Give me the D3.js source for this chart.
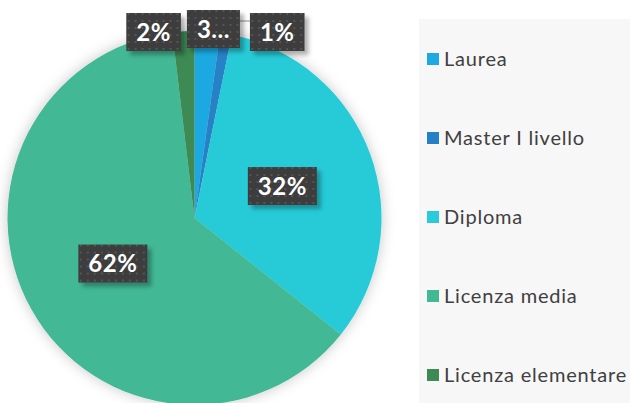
<!DOCTYPE html>
<html>
<head>
<meta charset="utf-8">
<script src="https://cdn.jsdelivr.net/npm/d3@7"></script>
<style>
  html, body { margin: 0; padding: 0; background: #fff; }
  svg { display: block; font-family: Lato, "Open Sans", sans-serif; }
</style>
</head>
<body>
<svg id="chart" width="630" height="403"></svg>
<script>
// dati (percentuali)
const categories = ["Laurea", "Master I livello", "Diploma", "Licenza media", "Licenza elementare"];
const values = [2.2, 1.0, 32.5, 62.4, 1.9];
const labels = ["3...", "1%", "32%", "62%", "2%"];
const colors = ["#1da9e2", "#2581c6", "#28cbd7", "#43b895", "#3e8a54"];

const svg = d3.select("#chart");
const cx = 194.5, cy = 218, R = 187;

const defs = svg.append("defs");
const glow = defs.append("filter").attr("id", "glow")
    .attr("x", "-20%").attr("y", "-20%").attr("width", "140%").attr("height", "140%");
glow.append("feDropShadow").attr("dx", 0).attr("dy", 0).attr("stdDeviation", 7)
    .attr("flood-color", "#000").attr("flood-opacity", 0.22);

const boxShadow = defs.append("filter").attr("id", "boxShadow")
    .attr("x", "-20%").attr("y", "-20%").attr("width", "150%").attr("height", "150%");
boxShadow.append("feDropShadow").attr("dx", 4).attr("dy", 4).attr("stdDeviation", 2)
    .attr("flood-color", "#000").attr("flood-opacity", 0.3);

const pat = defs.append("pattern").attr("id", "dots")
    .attr("width", 7).attr("height", 7).attr("patternUnits", "userSpaceOnUse");
pat.append("rect").attr("width", 7).attr("height", 7).attr("fill", "#3d3d3d");
pat.append("rect").attr("x", 2).attr("y", 2).attr("width", 2).attr("height", 2).attr("fill", "#545454");

// pannello legenda
svg.append("rect").attr("x", 419).attr("y", 19).attr("width", 211).attr("height", 384).attr("fill", "#f7f7f7");

const pie = d3.pie().sort(null).value(d => d.value);
const arcs = pie(categories.map((c, i) => ({ name: c, value: values[i], label: labels[i], color: colors[i] })));
const arc = d3.arc().innerRadius(0).outerRadius(R);

const g = svg.append("g").attr("transform", `translate(${cx},${cy})`);
g.append("g").attr("filter", "url(#glow)")
    .selectAll("path")
    .data(arcs)
    .enter()
    .append("path")
    .attr("d", arc)
    .attr("fill", d => d.data.color);

// etichette: fette grandi al centro, fette piccole fuori in alto
const inner = d3.arc().innerRadius(R * 0.5).outerRadius(R * 0.5);
const labelG = g.append("g");

function boxWidth(text) {
    const t = labelG.append("text").attr("font-size", 24).attr("font-weight", 700)
        .attr("letter-spacing", 0.5).text(text);
    const w = t.node().getComputedTextLength();
    t.remove();
    return w + 20;
}

const placed = arcs.map(d => {
    const w = boxWidth(d.data.label);
    let x, y;
    if (d.data.value >= 5) {
        [x, y] = inner.centroid(d);
    } else {
        const a = (d.startAngle + d.endAngle) / 2;
        x = R * Math.sin(a);
        y = -R + 1;
    }
    return { d, w, x, y };
});

// disposizione orizzontale delle etichette esterne
const outs = placed.filter(p => p.d.data.value < 5);
const mid = outs.find(p => p.d.data.name === "Laurea");
const midAngle = (mid.d.startAngle + mid.d.endAngle) / 2;
mid.x = R * Math.sin(midAngle) + 6;
mid.y = -R - 2;
const left = outs.find(p => p.d.data.name === "Licenza elementare");
left.x = mid.x - (mid.w + left.w) / 2 - 6;
const right = outs.find(p => p.d.data.name === "Master I livello");
right.x = mid.x + (mid.w + right.w) / 2 + 10;

// linea guida per 1%
const ra = (right.d.startAngle + right.d.endAngle) / 2;
labelG.append("polyline")
    .attr("points", [
        [R * Math.sin(ra), -R * Math.cos(ra)],
        [R * Math.sin(ra), -R - 10],
        [right.x - right.w / 2, -R - 10]
    ].map(p => p.join(",")).join(" "))
    .attr("fill", "none").attr("stroke", "#8a8a8a").attr("stroke-width", 1);

const lbl = labelG.selectAll("g.lbl")
    .data(placed)
    .enter()
    .append("g")
    .attr("class", "lbl")
    .attr("transform", p => `translate(${p.x},${p.y})`);

lbl.append("rect")
    .attr("x", p => -p.w / 2).attr("y", -19)
    .attr("width", p => p.w).attr("height", 38)
    .attr("fill", "url(#dots)")
    .attr("filter", "url(#boxShadow)");

lbl.append("text")
    .attr("text-anchor", "middle")
    .attr("dy", "0.36em")
    .attr("font-size", 24).attr("font-weight", 700)
    .attr("letter-spacing", 0.5)
    .attr("fill", "#fff")
    .text(p => p.d.data.label);

// legenda
const ly = d3.scalePoint().domain(categories).range([59, 375]);
const leg = svg.append("g").selectAll("g")
    .data(categories)
    .enter()
    .append("g")
    .attr("transform", d => `translate(427,${ly(d)})`);
leg.append("rect").attr("x", 0).attr("y", -6).attr("width", 12).attr("height", 12)
    .attr("fill", (d, i) => colors[i]);
leg.append("text").attr("x", 17).attr("dy", "0.36em")
    .attr("font-size", 20).attr("letter-spacing", 0.8).attr("fill", "#404040")
    .text(d => d);
</script>
</body>
</html>
